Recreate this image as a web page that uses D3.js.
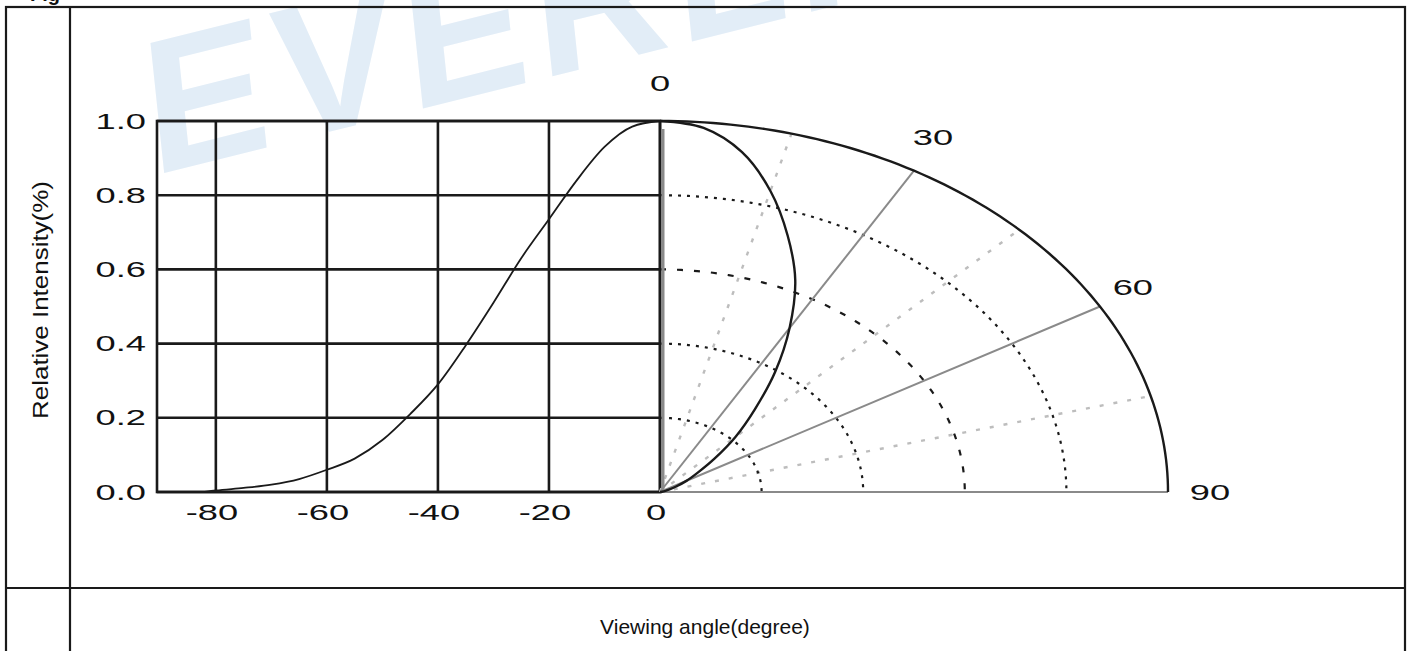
<!DOCTYPE html>
<html>
<head>
<meta charset="utf-8">
<script src="https://cdn.jsdelivr.net/npm/d3@7"></script>
<style>
  html, body { margin: 0; padding: 0; background: #fff; }
  svg { display: block; }
</style>
</head>
<body>
<svg id="chart" width="1408" height="651"></svg>
<script>
// Relative luminous intensity vs. viewing angle (symmetric about 0°)
const angles    = [0, 5, 10, 15, 20, 25, 30, 35, 40, 45, 50, 55, 60, 65, 70, 75, 80, 82];
const intensity = [1.0, 0.985, 0.93, 0.84, 0.735, 0.63, 0.51, 0.395, 0.29, 0.21, 0.14, 0.09, 0.06, 0.035, 0.02, 0.011, 0.004, 0.0];

// Cartesian axis ticks
const xTicks = [-80, -60, -40, -20, 0];
const yTicks = [0, 0.2, 0.4, 0.6, 0.8, 1.0];

// Polar grid
const ringValues   = [0.2, 0.4, 0.6, 0.8];
const majorSpokes  = [30, 60];
const minorSpokes  = [15, 45, 75];
const polarLabels  = [0, 30, 60, 90];

const svg = d3.select("#chart");

// ---- watermark ----
svg.append("text")
  .attr("transform", "translate(152,176) rotate(-14) skewX(-8)")
  .attr("font-family", "Liberation Sans, Arial, sans-serif")
  .attr("font-weight", "bold")
  .attr("font-size", 188)
  .attr("letter-spacing", 8)
  .attr("fill", "#e2edf7")
  .text("EVERLIGHT");

// ---- heading fragment above table ----
svg.append("text")
  .attr("x", 30).attr("y", 0.5)
  .attr("font-family", "Liberation Sans, Arial, sans-serif")
  .attr("font-weight", "bold")
  .attr("font-size", 20)
  .attr("fill", "#111")
  .text("Fig");

// ---- table frame ----
const frame = svg.append("g").attr("stroke", "#1a1a1a").attr("stroke-width", 2.2).attr("fill", "none");
frame.append("rect").attr("x", 6).attr("y", 7).attr("width", 1399).attr("height", 700);
frame.append("line").attr("x1", 70).attr("x2", 70).attr("y1", 7).attr("y2", 651);
frame.append("line").attr("x1", 6).attr("x2", 1405).attr("y1", 588).attr("y2", 588);

// ---- scales ----
const x = d3.scaleLinear().domain([-90.6, 0]).range([157, 660]);
const y = d3.scaleLinear().domain([0, 1]).range([492, 121]);
const cx = x(0), cy = y(0);
const rX = d3.scaleLinear().domain([0, 1]).range([0, 508]);
const rY = d3.scaleLinear().domain([0, 1]).range([0, y(0) - y(1)]);
const rad = d => d * Math.PI / 180;
const px = (deg, r) => cx + rX(r) * Math.sin(rad(deg));
const py = (deg, r) => cy - rY(r) * Math.cos(rad(deg));

const labelFont = "Liberation Sans, Arial, sans-serif";
function stretchedLabel(g, xPos, yPos, txt, anchor) {
  g.append("g")
    .attr("transform", `translate(${xPos},${yPos})`)
    .append("text")
    .attr("transform", "scale(1.65,1)")
    .attr("text-anchor", anchor)
    .attr("dominant-baseline", "central")
    .attr("font-family", labelFont)
    .attr("font-size", 22)
    .attr("fill", "#111")
    .text(txt);
}

// ---- cartesian grid ----
const grid = svg.append("g").attr("stroke", "#1a1a1a").attr("stroke-width", 2.6).attr("fill", "none");
xTicks.forEach(t => grid.append("line").attr("x1", x(t)).attr("x2", x(t)).attr("y1", y(0)).attr("y2", y(1)));
yTicks.forEach(t => grid.append("line").attr("x1", x(-90.6)).attr("x2", x(0)).attr("y1", y(t)).attr("y2", y(t)));
grid.append("rect").attr("x", x(-90.6)).attr("y", y(1)).attr("width", x(0) - x(-90.6)).attr("height", y(0) - y(1));

const tickLabels = svg.append("g");
yTicks.forEach(t => stretchedLabel(tickLabels, 146, y(t), d3.format(".1f")(t), "end"));
xTicks.forEach(t => stretchedLabel(tickLabels, x(t) - 4, 512, String(t), "middle"));

// ---- polar grid ----
const polar = svg.append("g").attr("fill", "none");
const arcAngles = d3.range(0, 90.5, 1);
const arcLine = r => d3.line().x(a => px(a, r)).y(a => py(a, r))(arcAngles);

minorSpokes.forEach(a => polar.append("line")
  .attr("x1", cx).attr("y1", cy).attr("x2", px(a, 1)).attr("y2", py(a, 1))
  .attr("stroke", "#bdbdbd").attr("stroke-width", 2.4).attr("stroke-dasharray", "4,10"));

ringValues.forEach((r, i) => polar.append("path")
  .attr("d", arcLine(r))
  .attr("stroke", "#1a1a1a").attr("stroke-width", 2.2)
  .attr("stroke-dasharray", i === 2 ? "6,11" : "3,6"));

majorSpokes.forEach(a => polar.append("line")
  .attr("x1", cx).attr("y1", cy).attr("x2", px(a, 1)).attr("y2", py(a, 1))
  .attr("stroke", "#8a8a8a").attr("stroke-width", 2));

// 0° and 90° axes
polar.append("line").attr("x1", cx + 3).attr("x2", cx + 3).attr("y1", y(1) + 8).attr("y2", cy)
  .attr("stroke", "#8a8a8a").attr("stroke-width", 3);
polar.append("line").attr("x1", cx).attr("x2", px(90, 1)).attr("y1", cy).attr("y2", cy)
  .attr("stroke", "#8a8a8a").attr("stroke-width", 2);

// outer boundary
polar.append("path").attr("d", arcLine(1)).attr("stroke", "#1a1a1a").attr("stroke-width", 2.4);

polarLabels.forEach(a => stretchedLabel(polar,
  px(a, 1) + 38 * Math.sin(rad(a)) + (a === 90 ? 4 : 0),
  py(a, 1) - 38 * Math.cos(rad(a)),
  String(a), "middle"));

// ---- data curves ----
const pts = angles.map((a, i) => ({ a, v: intensity[i] }));

svg.append("path")
  .datum(pts)
  .attr("fill", "none").attr("stroke", "#1a1a1a").attr("stroke-width", 1.8)
  .attr("d", d3.line().curve(d3.curveMonotoneX).x(d => x(-d.a)).y(d => y(d.v))(pts.slice().reverse()));

svg.append("path")
  .datum(pts)
  .attr("fill", "none").attr("stroke", "#1a1a1a").attr("stroke-width", 2.4)
  .attr("d", d3.line().curve(d3.curveCatmullRom).x(d => px(d.a, d.v)).y(d => py(d.a, d.v))(pts));

// ---- axis titles ----
svg.append("text")
  .attr("transform", "translate(40,300) rotate(-90)")
  .attr("text-anchor", "middle").attr("dominant-baseline", "central")
  .attr("font-family", "Liberation Sans, Arial, sans-serif").attr("font-size", 22)
  .attr("textLength", 238).attr("lengthAdjust", "spacingAndGlyphs")
  .attr("fill", "#111")
  .text("Relative Intensity(%)");

svg.append("text")
  .attr("x", 705).attr("y", 626)
  .attr("text-anchor", "middle").attr("dominant-baseline", "central")
  .attr("font-family", "Liberation Sans, Arial, sans-serif").attr("font-size", 21)
  .attr("fill", "#111")
  .text("Viewing angle(degree)");
</script>
</body>
</html>
